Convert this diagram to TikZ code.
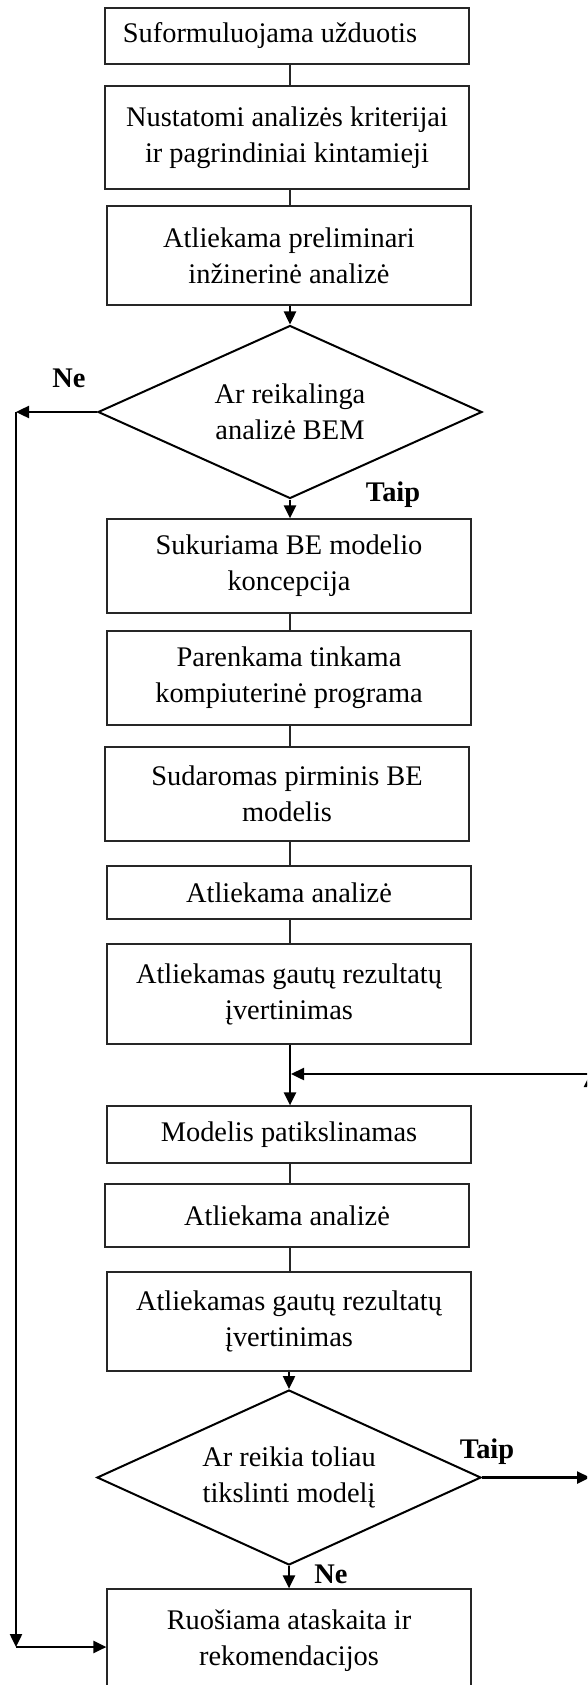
\documentclass[tikz,border=0pt]{standalone}
\usepackage{fontspec}
\setmainfont{Liberation Serif}
\usetikzlibrary{shapes.geometric,arrows.meta}
\newcommand\boxfont{\fontsize{28.4}{36}\selectfont}
\begin{document}
\begin{tikzpicture}[x=1pt,y=-1pt,
  box/.style={draw=black!85, line width=1.2pt, rectangle, inner sep=0pt, align=center, font=\boxfont, minimum width=364pt},
  dia/.style={draw=black, diamond, line width=2pt, inner sep=0pt, aspect=2.2, align=center, font=\boxfont},
  lbl/.style={font=\boxfont\bfseries, inner sep=0pt},
  ln/.style={draw=black!85, line width=1.2pt},
  arr/.style={draw=black, line width=2.4pt, -{Triangle[length=13pt,width=12pt]}}]
\useasboundingbox (0,0) rectangle (587,1685);
\clip (0,0) rectangle (587,1685);
% boxes
\node[box, minimum height=56pt] (b1) at (287,36) {Suformuluojama užduotis\hspace*{34pt}};
\node[box, minimum height=103pt] (b2) at (287,137.5) {Nustatomi analizės kriterijai\\ir pagrindiniai kintamieji};
\node[box, minimum height=99pt] (b3) at (289,255.5) {Atliekama preliminari\\inžinerinė analizė};
\node[dia, minimum width=384pt, minimum height=173pt] (d1) at (290,412) {Ar reikalinga\\analizė BEM};
\node[box, minimum height=94pt] (b4) at (289,566) {Sukuriama BE modelio\\koncepcija};
\node[box, minimum height=94pt] (b5) at (289,678) {Parenkama tinkama\\kompiuterinė programa};
\node[box, minimum height=94pt] (b6) at (287,794) {Sudaromas pirminis BE\\modelis};
\node[box, minimum height=53pt] (b7) at (289,892.5) {Atliekama analizė};
\node[box, minimum height=100pt] (b8) at (289,994) {Atliekamas gautų rezultatų\\įvertinimas};
\node[box, minimum height=57pt] (b9) at (289,1134.5) {Modelis patikslinamas};
\node[box, minimum height=63pt] (b10) at (287,1215.5) {Atliekama analizė};
\node[box, minimum height=99pt] (b11) at (289,1321.5) {Atliekamas gautų rezultatų\\įvertinimas};
\node[dia, minimum width=384pt, minimum height=175pt] (d2) at (289,1477.5) {Ar reikia toliau\\tikslinti modelį};
\node[box, minimum height=104pt] (b12) at (289,1641) {Ruošiama ataskaita ir\\rekomendacijos};
% labels
\node[lbl] (ne1) at (69,378) {Ne};
\node[lbl] (taip1) at (393,495) {Taip};
\node[lbl] (taip2) at (487,1452) {Taip};
\node[lbl] (ne2) at (331,1574) {Ne};
% plain connectors
\draw[ln] (b1.south-|d1.north) -- (b2.north-|d1.north);
\draw[ln] (b2.south-|d1.north) -- (b3.north-|d1.north);
\draw[ln] (b4.south-|d1.north) -- (b5.north-|d1.north);
\draw[ln] (b5.south-|d1.north) -- (b6.north-|d1.north);
\draw[ln] (b6.south-|d1.north) -- (b7.north-|d1.north);
\draw[ln] (b7.south-|d1.north) -- (b8.north-|d1.north);
\draw[ln] (b9.south-|d1.north) -- (b10.north-|d1.north);
\draw[ln] (b10.south-|d1.north) -- (b11.north-|d1.north);
% arrows
\draw[arr] (b3.south-|d1.north) -- (d1.north);
\draw[arr] (d1.south) -- (b4.north-|d1.south);
\draw[arr] (b8.south-|d1.north) -- (b9.north-|d1.north);
\draw[arr] (b11.south-|d2.north) -- (d2.north);
\draw[arr] (d2.south) -- (b12.north-|d2.south);
% left loop
\coordinate (nl) at (16,412);
\coordinate (sw) at (16,1647);
\draw[arr] (d1.west) -- (nl);
\draw[arr] (nl) -- (sw);
\draw[arr] (sw) -- (sw-|b12.west);
% right loop
\coordinate (er) at (590,1477.5);
\coordinate (ner) at (590,1074);
\draw[arr] (d2.east) -- (er);
\draw[arr] (er) -- (ner);
\draw[arr, shorten >=1pt] (ner) -- (ner-|d1.north);
\end{tikzpicture}
\end{document}
